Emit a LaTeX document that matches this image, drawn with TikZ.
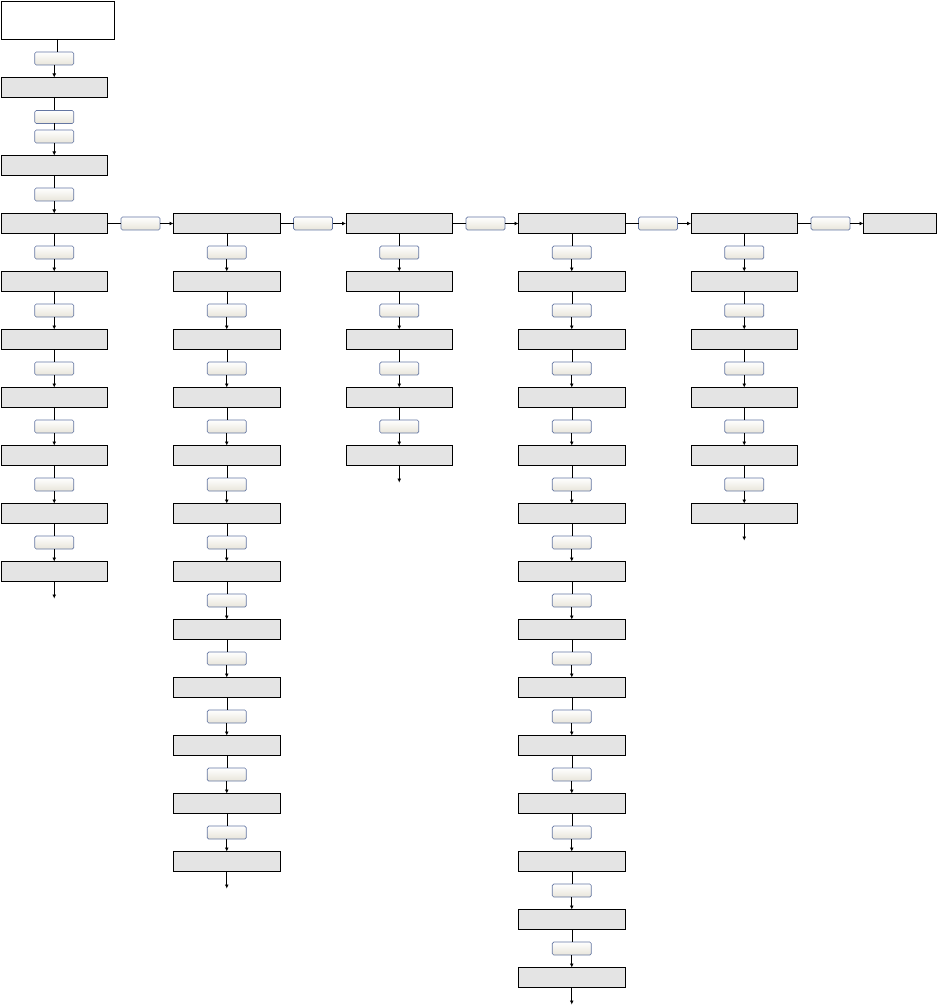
\documentclass[tikz,border=0pt]{standalone}
\usepackage{xcolor}
\usepackage{tikz}
\usetikzlibrary{arrows.meta, positioning}

\definecolor{boxgray}{RGB}{228,228,228}
\definecolor{tagedge}{RGB}{100,118,162}
\definecolor{tagbase}{RGB}{232,229,218}

\begin{document}
\begin{tikzpicture}[
    x=1pt, y=-1pt,
    node distance=38pt and 66pt,
    box/.style={draw, line width=0.8pt, fill=boxgray, minimum width=106.5pt, minimum height=20pt, inner sep=0pt, outer sep=0pt},
    tag/.style={draw=tagedge, line width=0.7pt, rounded corners=1.5pt, top color=white, bottom color=tagbase, minimum width=39pt, minimum height=13pt, inner sep=0pt, outer sep=0pt},
    arrow/.style={-{Latex[length=4pt,width=4pt]}, line width=0.8pt}
]
    \useasboundingbox (0,0) rectangle (937,1008);

    % lead-in above the first column
    \node[draw, line width=0.8pt, fill=white, minimum width=113pt, minimum height=38pt, inner sep=0pt, outer sep=0pt] (start) at (57.5,20) {};
    \node[box] (pre1) at (54.25,87.5) {};
    \node[box, below=58pt of pre1] (pre2) {};
    \node[box, below=of pre2] (c1-1) {};

    \node[tag] (s0) at (54.25,58.5) {};
    \node[tag, below=13pt of pre1] (s1) {};
    \node[tag, below=6.5pt of s1] (s2) {};
    \node[tag, below=12.5pt of pre2] (s3) {};

    \draw (start.south) -- (start.south |- s0.north);
    \draw[arrow] (s0) -- (pre1);
    \draw (pre1) -- (s1);
    \draw (s1) -- (s2);
    \draw[arrow] (s2) -- (pre2);
    \draw (pre2) -- (s3);
    \draw[arrow] (s3) -- (c1-1);

    % top row
    \node[box, right=of c1-1] (c2-1) {};
    \node[box, right=of c2-1] (c3-1) {};
    \node[box, right=of c3-1] (c4-1) {};
    \node[box, right=of c4-1] (c5-1) {};
    \node[box, right=of c5-1, minimum width=73pt] (c6-1) {};

    \foreach \c/\d in {1/2, 2/3, 3/4, 4/5, 5/6} {
        \node[tag, right=13.5pt of c\c-1] (h\c) {};
        \draw (c\c-1) -- (h\c);
        \draw[arrow] (h\c) -- (c\d-1);
    }

    % columns
    \foreach \c/\n in {1/7, 2/12, 3/5, 4/14, 5/6} {
        \foreach \i [remember=\i as \j (initially 1)] in {2,...,\n} {
            \node[box, below=of c\c-\j] (c\c-\i) {};
            \node[tag, below=12.5pt of c\c-\j] (t\c-\i) {};
            \draw (c\c-\j) -- (t\c-\i);
            \draw[arrow] (t\c-\i) -- (c\c-\i);
        }
        \coordinate[below=17pt of c\c-\n] (end\c);
        \draw[arrow] (c\c-\n) -- (end\c);
    }
\end{tikzpicture}
\end{document}
